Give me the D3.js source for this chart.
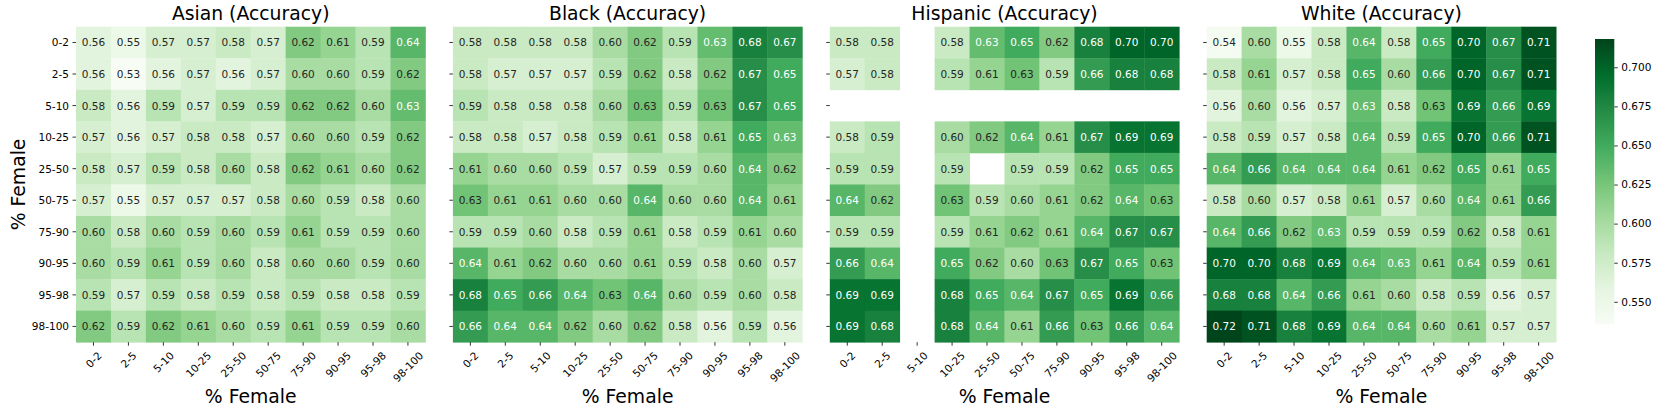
<!DOCTYPE html>
<html>
<head>
<meta charset="utf-8">
<script src="https://cdn.jsdelivr.net/npm/d3@7"></script>
<style>
    body { margin: 0; background: #fff; }
    text { font-family: "DejaVu Sans", sans-serif; }
</style>
</head>
<body>
<script>
//heatmaps of accuracy by % female, one panel per group

var categories = ["0-2", "2-5", "5-10", "10-25", "25-50", "50-75", "75-90", "90-95", "95-98", "98-100"];
var panelTitles = ["Asian (Accuracy)", "Black (Accuracy)", "Hispanic (Accuracy)", "White (Accuracy)"];

//rows = y category (top to bottom), columns = x category; null = no data
var asianValues = [
    [0.56, 0.55, 0.57, 0.57, 0.58, 0.57, 0.62, 0.61, 0.59, 0.64],
    [0.56, 0.53, 0.56, 0.57, 0.56, 0.57, 0.60, 0.60, 0.59, 0.62],
    [0.58, 0.56, 0.59, 0.57, 0.59, 0.59, 0.62, 0.62, 0.60, 0.634],
    [0.57, 0.56, 0.57, 0.58, 0.58, 0.57, 0.60, 0.60, 0.59, 0.62],
    [0.58, 0.57, 0.59, 0.58, 0.60, 0.58, 0.62, 0.61, 0.60, 0.62],
    [0.57, 0.55, 0.57, 0.57, 0.57, 0.58, 0.60, 0.59, 0.58, 0.60],
    [0.60, 0.58, 0.60, 0.59, 0.60, 0.59, 0.61, 0.59, 0.59, 0.60],
    [0.60, 0.59, 0.61, 0.59, 0.60, 0.58, 0.60, 0.60, 0.59, 0.60],
    [0.59, 0.57, 0.59, 0.58, 0.59, 0.58, 0.59, 0.58, 0.58, 0.59],
    [0.62, 0.59, 0.62, 0.61, 0.60, 0.59, 0.61, 0.59, 0.59, 0.60]
];
var blackValues = [
    [0.58, 0.58, 0.58, 0.58, 0.60, 0.62, 0.59, 0.634, 0.68, 0.67],
    [0.58, 0.57, 0.57, 0.57, 0.59, 0.62, 0.58, 0.62, 0.67, 0.65],
    [0.59, 0.58, 0.58, 0.58, 0.60, 0.628, 0.59, 0.628, 0.67, 0.65],
    [0.58, 0.58, 0.57, 0.58, 0.59, 0.61, 0.58, 0.61, 0.65, 0.634],
    [0.61, 0.60, 0.60, 0.59, 0.57, 0.59, 0.59, 0.60, 0.64, 0.62],
    [0.628, 0.61, 0.61, 0.60, 0.60, 0.64, 0.60, 0.60, 0.64, 0.61],
    [0.59, 0.59, 0.60, 0.58, 0.59, 0.61, 0.58, 0.59, 0.61, 0.60],
    [0.64, 0.61, 0.62, 0.60, 0.60, 0.61, 0.59, 0.58, 0.60, 0.57],
    [0.68, 0.65, 0.66, 0.64, 0.628, 0.64, 0.60, 0.59, 0.60, 0.58],
    [0.66, 0.64, 0.64, 0.62, 0.60, 0.62, 0.58, 0.56, 0.59, 0.56]
];
var hispanicValues = [
    [0.58, 0.58, null, 0.58, 0.634, 0.65, 0.62, 0.68, 0.70, 0.70],
    [0.57, 0.58, null, 0.59, 0.61, 0.628, 0.59, 0.66, 0.68, 0.68],
    [null, null, null, null, null, null, null, null, null, null],
    [0.58, 0.59, null, 0.60, 0.62, 0.64, 0.61, 0.67, 0.69, 0.69],
    [0.59, 0.59, null, 0.59, null, 0.59, 0.59, 0.62, 0.65, 0.65],
    [0.64, 0.62, null, 0.628, 0.59, 0.60, 0.61, 0.62, 0.64, 0.628],
    [0.59, 0.59, null, 0.59, 0.61, 0.62, 0.61, 0.64, 0.67, 0.67],
    [0.66, 0.64, null, 0.65, 0.62, 0.60, 0.628, 0.67, 0.65, 0.628],
    [0.69, 0.69, null, 0.68, 0.65, 0.64, 0.67, 0.65, 0.69, 0.66],
    [0.69, 0.68, null, 0.68, 0.64, 0.61, 0.66, 0.628, 0.66, 0.64]
];
var whiteValues = [
    [0.54, 0.60, 0.55, 0.58, 0.64, 0.58, 0.65, 0.70, 0.67, 0.71],
    [0.58, 0.61, 0.57, 0.58, 0.65, 0.60, 0.66, 0.70, 0.67, 0.71],
    [0.56, 0.60, 0.56, 0.57, 0.634, 0.58, 0.628, 0.69, 0.66, 0.69],
    [0.58, 0.59, 0.57, 0.58, 0.64, 0.59, 0.65, 0.70, 0.66, 0.71],
    [0.64, 0.66, 0.64, 0.64, 0.64, 0.61, 0.62, 0.65, 0.61, 0.65],
    [0.58, 0.60, 0.57, 0.58, 0.61, 0.57, 0.60, 0.64, 0.61, 0.66],
    [0.64, 0.66, 0.62, 0.634, 0.59, 0.59, 0.59, 0.62, 0.58, 0.61],
    [0.70, 0.70, 0.68, 0.69, 0.64, 0.634, 0.61, 0.64, 0.59, 0.61],
    [0.68, 0.68, 0.64, 0.66, 0.61, 0.60, 0.58, 0.59, 0.56, 0.57],
    [0.72, 0.71, 0.68, 0.69, 0.64, 0.64, 0.60, 0.61, 0.57, 0.57]
];

//colour bar range and ticks
var colorMin = 0.5356, colorMax = 0.7181;
var colorTicks = [0.550, 0.575, 0.600, 0.625, 0.650, 0.675, 0.700];
var greens = ["#f7fcf5", "#e5f5e0", "#c7e9c0", "#a1d99b", "#74c476", "#41ab5d", "#238b45", "#006d2c", "#00441b"];

(function(){

var width = 1660, height = 414;
var panelLeft = 76, panelStep = 376.9, panelW = 349.4,
    panelTop = 26.7, panelH = 315.5;
var tickLen = 3.5, tickPad = 3.5, smallFont = 10.5, bigFont = 18.8;

var svg = d3.select("body")
    .append("svg")
    .attr("width", width)
    .attr("height", height);

var colorScale = d3.scaleLinear()
    .domain(greens.map(function(c, i){ return colorMin + i * (colorMax - colorMin) / (greens.length - 1); }))
    .range(greens)
    .interpolate(d3.interpolateRgb)
    .clamp(true);

//same rule seaborn uses to pick the annotation colour
function luminance(c){
    var rgb = d3.rgb(c);
    var lin = [rgb.r, rgb.g, rgb.b].map(function(v){
        v = v / 255;
        return v <= 0.03928 ? v / 12.92 : Math.pow((v + 0.055) / 1.055, 2.4);
    });
    return 0.2126 * lin[0] + 0.7152 * lin[1] + 0.0722 * lin[2];
}

var allValues = [asianValues, blackValues, hispanicValues, whiteValues];

allValues.forEach(function(values, p){
    drawPanel(values, p);
});
drawColorbar();

//y axis label
svg.append("text")
    .attr("transform", "translate(25," + (panelTop + panelH / 2) + ") rotate(-90)")
    .attr("text-anchor", "middle")
    .style("font-size", bigFont + "px")
    .text("% Female");

function drawPanel(values, p){
    var x0 = panelLeft + p * panelStep;
    var g = svg.append("g").attr("transform", "translate(" + x0 + "," + panelTop + ")");

    var x = d3.scaleBand().domain(categories).range([0, panelW]);
    var y = d3.scaleBand().domain(categories).range([0, panelH]);

    var cells = [];
    values.forEach(function(row, r){
        row.forEach(function(v, c){
            if (v !== null) cells.push({row: categories[r], col: categories[c], value: v});
        });
    });

    g.selectAll(".cell")
        .data(cells)
        .enter()
        .append("rect")
        .attr("class", "cell")
        .attr("x", function(d){ return x(d.col); })
        .attr("y", function(d){ return y(d.row); })
        .attr("width", x.bandwidth() + 0.4)
        .attr("height", y.bandwidth() + 0.4)
        .style("fill", function(d){ return colorScale(d.value); });

    g.selectAll(".annot")
        .data(cells)
        .enter()
        .append("text")
        .attr("class", "annot")
        .attr("x", function(d){ return x(d.col) + x.bandwidth() / 2; })
        .attr("y", function(d){ return y(d.row) + y.bandwidth() / 2; })
        .attr("text-anchor", "middle")
        .attr("dominant-baseline", "central")
        .style("font-size", smallFont + "px")
        .style("fill", function(d){ return luminance(colorScale(d.value)) > 0.408 ? "#262626" : "#ffffff"; })
        .text(function(d){ return d3.format(".2f")(d.value); });

    //left ticks, labels only on the first panel
    var yTicks = g.selectAll(".ytick")
        .data(categories)
        .enter()
        .append("g")
        .attr("class", "ytick")
        .attr("transform", function(d){ return "translate(0," + (y(d) + y.bandwidth() / 2) + ")"; });
    yTicks.append("line")
        .attr("x1", -tickLen).attr("x2", 0)
        .attr("stroke", "#000").attr("stroke-width", 0.8);
    if (p === 0) {
        yTicks.append("text")
            .attr("x", -tickLen - tickPad)
            .attr("text-anchor", "end")
            .attr("dominant-baseline", "central")
            .style("font-size", smallFont + "px")
            .text(function(d){ return d; });
    }

    //bottom ticks with rotated labels
    var xTicks = g.selectAll(".xtick")
        .data(categories)
        .enter()
        .append("g")
        .attr("class", "xtick")
        .attr("transform", function(d){ return "translate(" + (x(d) + x.bandwidth() / 2) + "," + panelH + ")"; });
    xTicks.append("line")
        .attr("y1", 0).attr("y2", tickLen)
        .attr("stroke", "#000").attr("stroke-width", 0.8);
    xTicks.append("text")
        .attr("text-anchor", "middle")
        .attr("dominant-baseline", "central")
        .style("font-size", smallFont + "px")
        .text(function(d){ return d; })
        .each(function(){
            var w = this.getComputedTextLength(), h = smallFont * 1.16;
            var half = (w + h) / (2 * Math.SQRT2);
            d3.select(this).attr("transform", "translate(0," + (tickLen + tickPad + half) + ") rotate(-45)");
        });

    //title and x label
    svg.append("text")
        .attr("x", x0 + panelW / 2)
        .attr("y", 20)
        .attr("text-anchor", "middle")
        .style("font-size", bigFont + "px")
        .text(panelTitles[p]);

    svg.append("text")
        .attr("x", x0 + panelW / 2)
        .attr("y", 403)
        .attr("text-anchor", "middle")
        .style("font-size", bigFont + "px")
        .text("% Female");
}

function drawColorbar(){
    var cbX = 1595, cbW = 19.3, cbTop = 39, cbBottom = 324.3;

    var grad = svg.append("defs")
        .append("linearGradient")
        .attr("id", "cbGrad")
        .attr("x1", 0).attr("y1", 1).attr("x2", 0).attr("y2", 0);
    grad.selectAll("stop")
        .data(greens)
        .enter()
        .append("stop")
        .attr("offset", function(d, i){ return i / (greens.length - 1); })
        .attr("stop-color", function(d){ return d; });

    svg.append("rect")
        .attr("x", cbX).attr("y", cbTop)
        .attr("width", cbW).attr("height", cbBottom - cbTop)
        .style("fill", "url(#cbGrad)");

    var cbScale = d3.scaleLinear().domain([colorMin, colorMax]).range([cbBottom, cbTop]);

    var axis = d3.axisRight(cbScale)
        .tickValues(colorTicks)
        .tickFormat(d3.format(".3f"))
        .tickSize(tickLen)
        .tickPadding(tickPad);

    var ax = svg.append("g")
        .attr("transform", "translate(" + (cbX + cbW) + ",0)")
        .call(axis);
    ax.select(".domain").remove();
    ax.selectAll("line").attr("stroke-width", 0.8);
    ax.selectAll("text")
        .style("font-size", smallFont + "px")
        .style("font-family", "DejaVu Sans")
        .attr("fill", "#000");
}

})();
</script>
</body>
</html>
